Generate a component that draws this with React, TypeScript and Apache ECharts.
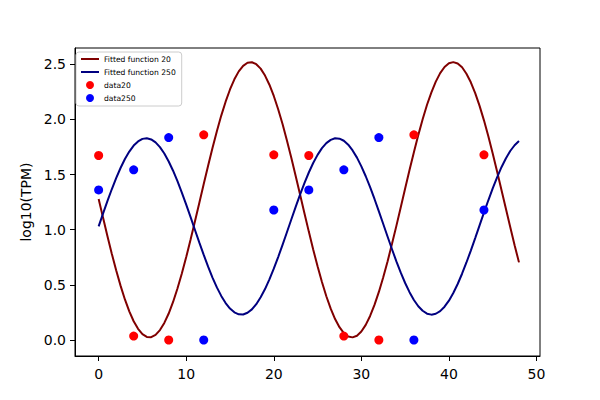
import React, { useEffect, useRef } from "react";
import * as echarts from "echarts";

// Fitted curves at x = 0, 0.5, 1, ..., 48
const fitX = [
  0, 0.5, 1, 1.5, 2, 2.5, 3, 3.5, 4, 4.5, 5, 5.5, 6, 6.5, 7, 7.5, 8, 8.5, 9, 9.5,
  10, 10.5, 11, 11.5, 12, 12.5, 13, 13.5, 14, 14.5, 15, 15.5, 16, 16.5, 17, 17.5, 18, 18.5, 19, 19.5,
  20, 20.5, 21, 21.5, 22, 22.5, 23, 23.5, 24, 24.5, 25, 25.5, 26, 26.5, 27, 27.5, 28, 28.5, 29, 29.5,
  30, 30.5, 31, 31.5, 32, 32.5, 33, 33.5, 34, 34.5, 35, 35.5, 36, 36.5, 37, 37.5, 38, 38.5, 39, 39.5,
  40, 40.5, 41, 41.5, 42, 42.5, 43, 43.5, 44, 44.5, 45, 45.5, 46, 46.5, 47, 47.5, 48,
];
const fit20 = [
  1.279, 1.11, 0.944, 0.783, 0.632, 0.493, 0.368, 0.26, 0.17, 0.101,
  0.053, 0.028, 0.026, 0.046, 0.09, 0.155, 0.24, 0.345, 0.467, 0.603,
  0.752, 0.911, 1.076, 1.245, 1.414, 1.581, 1.742, 1.894, 2.035, 2.161,
  2.272, 2.364, 2.436, 2.486, 2.514, 2.519, 2.501, 2.461, 2.398, 2.315,
  2.213, 2.093, 1.958, 1.81, 1.653, 1.488, 1.32, 1.15, 0.983, 0.821,
  0.668, 0.526, 0.397, 0.284, 0.19, 0.116, 0.063, 0.032, 0.024, 0.039,
  0.077, 0.137, 0.218, 0.318, 0.436, 0.569, 0.715, 0.872, 1.035, 1.204,
  1.373, 1.541, 1.703, 1.858, 2.002, 2.133, 2.246, 2.343, 2.42, 2.476,
  2.509, 2.52, 2.508, 2.473, 2.415, 2.337, 2.239, 2.123, 1.992, 1.847,
  1.692, 1.529, 1.361, 1.192, 1.024, 0.86, 0.704,
];
const fit250 = [
  1.031, 1.146, 1.259, 1.367, 1.468, 1.56, 1.641, 1.709, 1.763, 1.801,
  1.824, 1.83, 1.819, 1.792, 1.749, 1.691, 1.619, 1.535, 1.44, 1.337,
  1.227, 1.114, 0.998, 0.883, 0.772, 0.665, 0.566, 0.477, 0.4, 0.335,
  0.285, 0.251, 0.233, 0.231, 0.247, 0.278, 0.325, 0.387, 0.462, 0.55,
  0.647, 0.752, 0.863, 0.977, 1.093, 1.207, 1.318, 1.422, 1.519, 1.605,
  1.679, 1.74, 1.785, 1.815, 1.829, 1.826, 1.807, 1.771, 1.719, 1.654,
  1.575, 1.485, 1.386, 1.279, 1.166, 1.052, 0.936, 0.823, 0.713, 0.611,
  0.517, 0.434, 0.363, 0.306, 0.265, 0.239, 0.23, 0.238, 0.262, 0.302,
  0.357, 0.426, 0.508, 0.601, 0.703, 0.811, 0.924, 1.04, 1.155, 1.267,
  1.375, 1.475, 1.567, 1.646, 1.714, 1.766, 1.804,
];

// Observed data points
const data20X = [0, 4, 8, 12, 20, 24, 28, 32, 36, 44];
const data20Y = [1.673, 0.036, 0, 1.861, 1.679, 1.673, 0.036, 0, 1.861, 1.679];
const data250X = [0, 4, 8, 12, 20, 24, 28, 32, 36, 44];
const data250Y = [1.361, 1.543, 1.836, 0, 1.179, 1.361, 1.543, 1.836, 0, 1.179];

const xTicks = [0, 10, 20, 30, 40, 50];
const yTicks = [0, 0.5, 1, 1.5, 2, 2.5];

const seriesNames = ["Fitted function 20", "Fitted function 250", "data20", "data250"];

const FONT = "DejaVu Sans";

export default function App() {
  const ref = useRef<HTMLDivElement>(null);

  useEffect(() => {
    document.body.style.margin = "0";
    if (!ref.current) return;
    const chart = echarts.init(ref.current, null, { renderer: "svg" });

    const pairs = (xs: number[], ys: number[]) => xs.map((x, i) => [x, ys[i]]);
    const hiddenSymbol = { opacity: 0, color: "transparent", borderWidth: 0 };

    chart.setOption({
      animation: false,
      backgroundColor: "#ffffff",
      grid: {
        left: 75,
        right: 60,
        top: 48,
        bottom: 44,
        show: true,
        borderColor: "#000",
        borderWidth: 1,
        backgroundColor: "transparent",
      },
      legend: {
        data: [
          { name: seriesNames[0], itemStyle: hiddenSymbol },
          { name: seriesNames[1], itemStyle: hiddenSymbol },
          { name: seriesNames[2] },
          { name: seriesNames[3] },
        ],
        orient: "vertical",
        left: 76,
        top: 52,
        itemWidth: 18,
        itemHeight: 8,
        itemGap: 5,
        padding: [3, 6, 4, 4],
        backgroundColor: "rgba(255,255,255,0.8)",
        borderColor: "#cccccc",
        borderWidth: 1,
        borderRadius: 3,
        textStyle: { fontSize: 7.6, fontFamily: FONT, color: "#000" },
      },
      xAxis: {
        type: "value",
        min: -2.7,
        max: 50.4,
        splitLine: { show: false },
        axisLine: { show: true, onZero: false, lineStyle: { color: "#000", width: 1 } },
        axisTick: {
          show: true,
          length: 5,
          lineStyle: { color: "#000", width: 1 },
          customValues: xTicks,
        },
        axisLabel: {
          customValues: xTicks,
          margin: 11,
          fontSize: 14,
          fontFamily: FONT,
          color: "#000",
          formatter: (v: number) => String(v),
        },
      },
      yAxis: {
        type: "value",
        min: -0.145,
        max: 2.648,
        name: "log10(TPM)",
        nameLocation: "middle",
        nameGap: 37,
        nameTextStyle: { fontSize: 14, fontFamily: FONT, color: "#000" },
        splitLine: { show: false },
        axisLine: { show: true, onZero: false, lineStyle: { color: "#000", width: 1 } },
        axisTick: {
          show: true,
          length: 5,
          lineStyle: { color: "#000", width: 1 },
          customValues: yTicks,
        },
        axisLabel: {
          customValues: yTicks,
          margin: 9,
          fontSize: 14,
          fontFamily: FONT,
          color: "#000",
          formatter: (v: number) => v.toFixed(1),
        },
      },
      series: [
        {
          name: seriesNames[0],
          type: "line",
          data: pairs(fitX, fit20),
          symbol: "none",
          smooth: false,
          color: "#800000",
          lineStyle: { color: "#800000", width: 2 },
          z: 2,
        },
        {
          name: seriesNames[1],
          type: "line",
          data: pairs(fitX, fit250),
          symbol: "none",
          smooth: false,
          color: "#000080",
          lineStyle: { color: "#000080", width: 2 },
          z: 2,
        },
        {
          name: seriesNames[2],
          type: "scatter",
          data: pairs(data20X, data20Y),
          symbol: "circle",
          symbolSize: 9,
          itemStyle: { color: "#ff0000", opacity: 1 },
          z: 3,
        },
        {
          name: seriesNames[3],
          type: "scatter",
          data: pairs(data250X, data250Y),
          symbol: "circle",
          symbolSize: 9,
          itemStyle: { color: "#0000ff", opacity: 1 },
          z: 3,
        },
      ],
    });

    return () => chart.dispose();
  }, []);

  return <div ref={ref} style={{ width: 600, height: 400 }} />;
}
